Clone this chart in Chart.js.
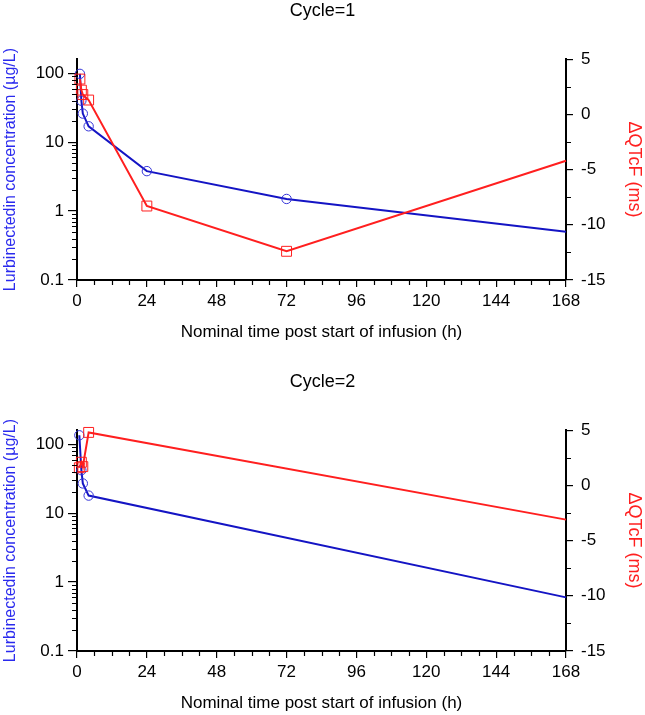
<!DOCTYPE html>
<html>
<head>
<meta charset="utf-8">
<script src="https://cdn.jsdelivr.net/npm/chart.js@4.4.1/dist/chart.umd.min.js"></script>
<style>
  body { margin: 0; background: #fff; }
  .panel { position: absolute; left: 0; width: 645px; height: 344px; }
</style>
</head>
<body>
<div class="panel" style="top:0"><canvas id="c1" width="645" height="344"></canvas></div>
<div class="panel" style="top:371px"><canvas id="c2" width="645" height="344"></canvas></div>
<script>
// nominal sampling times (h)
const times1 = [1, 1.5, 2, 4, 24, 72, 168];
const conc1 = [98, 40, 26, 17, 3.8, 1.5, 0.5];      // lurbinectedin, ug/L
const dqtcf1 = [3.2, 2.2, 1.8, 1.3, -8.3, -12.4, -4.2]; // ms

const times2 = [0.8, 1.5, 2, 4, 168];
const conc2 = [135, 42, 27, 18, 0.6];
const dqtcf2 = [1.6, 2.1, 1.7, 4.8, -3.1];

const xTicks = [0, 24, 48, 72, 96, 120, 144, 168];
const xMinor = [6, 12, 18, 30, 36, 42, 54, 60, 66, 78, 84, 90, 102, 108, 114, 126, 132, 138, 150, 156, 162];
const concTicks = [0.1, 1, 10, 100];
const concMinor = [0.2, 0.3, 0.4, 0.5, 0.6, 0.7, 0.8, 0.9, 2, 3, 4, 5, 6, 7, 8, 9, 20, 30, 40, 50, 60, 70, 80, 90];
const qtMinor = [2.5, -2.5, -7.5, -12.5];

const BLUE = '#1414c4';
const RED = '#ff1f1f';
const FONT = 'Liberation Sans, Arial, sans-serif';

// short ticks between the labelled ones
const minorTicksPlugin = {
  id: 'minorTicks',
  afterDraw(chart, args, opts) {
    const ctx = chart.ctx;
    ctx.save();
    ctx.strokeStyle = '#000';
    ctx.lineWidth = 1.2;
    const len = 5;
    const sx = chart.scales.x, sl = chart.scales.yConc, sr = chart.scales.yQt;
    ctx.beginPath();
    opts.x.forEach(v => {
      const p = Math.round(sx.getPixelForValue(v)) + 0.5;
      ctx.moveTo(p, sx.top); ctx.lineTo(p, sx.top + len);
    });
    opts.conc.forEach(v => {
      const p = Math.round(sl.getPixelForValue(v)) + 0.5;
      ctx.moveTo(sl.right - len, p); ctx.lineTo(sl.right, p);
    });
    opts.qt.forEach(v => {
      const p = Math.round(sr.getPixelForValue(v)) + 0.5;
      ctx.moveTo(sr.left, p); ctx.lineTo(sr.left + len, p);
    });
    ctx.stroke();
    ctx.restore();
  }
};

function makeChart(id, title, times, conc, dqtcf) {
  const last = times.length - 1;
  const radii = (r) => times.map((t, i) => i === last ? 0 : r);
  return new Chart(document.getElementById(id), {
    type: 'line',
    data: {
      datasets: [
        {
          label: 'dQTcF',
          data: times.map((t, i) => ({ x: t, y: dqtcf[i] })),
          yAxisID: 'yQt',
          borderColor: RED,
          borderWidth: 2,
          pointStyle: 'rect',
          pointRadius: radii(7),
          pointBorderColor: RED,
          pointBorderWidth: 1,
          pointBackgroundColor: 'rgba(255,255,255,0)',
          tension: 0,
          clip: false,
          order: 0
        },
        {
          label: 'Concentration',
          data: times.map((t, i) => ({ x: t, y: conc[i] })),
          yAxisID: 'yConc',
          borderColor: BLUE,
          borderWidth: 2,
          pointStyle: 'circle',
          pointRadius: radii(4.7),
          pointBorderColor: '#3434d8',
          pointBorderWidth: 1,
          pointBackgroundColor: 'rgba(255,255,255,0)',
          tension: 0,
          clip: false,
          order: 1
        }
      ]
    },
    options: {
      responsive: false,
      animation: false,
      events: [],
      layout: { padding: 0 },
      plugins: {
        legend: { display: false },
        tooltip: { enabled: false },
        title: {
          display: true,
          text: title,
          color: '#000',
          font: { family: FONT, size: 18, weight: 'normal' },
          padding: { top: 0, bottom: 37.6 }
        },
        minorTicks: { x: xMinor, conc: concMinor, qt: qtMinor }
      },
      scales: {
        x: {
          type: 'linear',
          min: 0,
          max: 168,
          afterBuildTicks: (s) => { s.ticks = xTicks.map(v => ({ value: v })); },
          afterFit: (s) => { s.height = 64; },
          border: { display: true, color: '#000', width: 2 },
          grid: { display: true, drawOnChartArea: false, drawTicks: true, tickLength: 7, color: '#000', lineWidth: 1.2 },
          ticks: { color: '#000', font: { family: FONT, size: 17 }, padding: 4, maxRotation: 0, autoSkip: false },
          title: {
            display: true,
            text: 'Nominal time post start of infusion (h)',
            color: '#000',
            font: { family: FONT, size: 17 },
            padding: { top: 0, bottom: 1 }
          }
        },
        yConc: {
          type: 'logarithmic',
          position: 'left',
          min: 0.1,
          max: 160,
          afterBuildTicks: (s) => { s.ticks = concTicks.map(v => ({ value: v })); },
          afterFit: (s) => { s.width = 77; },
          border: { display: true, color: '#000', width: 2 },
          grid: { display: true, drawOnChartArea: false, drawTicks: true, tickLength: 9, color: '#000', lineWidth: 1.2 },
          ticks: { color: '#000', font: { family: FONT, size: 17 }, padding: 4, callback: (v) => String(v) },
          title: {
            display: true,
            text: 'Lurbinectedin concentration (µg/L)',
            color: '#2a2aee',
            font: { family: FONT, size: 16 },
            padding: { top: 1, bottom: 0 }
          }
        },
        yQt: {
          type: 'linear',
          position: 'right',
          min: -15,
          max: 5,
          ticks: { stepSize: 5, color: '#000', font: { family: FONT, size: 17 }, padding: 8 },
          afterFit: (s) => { s.width = 79; },
          border: { display: true, color: '#000', width: 2 },
          grid: { display: true, drawOnChartArea: false, drawTicks: true, tickLength: 7, color: '#000', lineWidth: 1.2 },
          title: {
            display: true,
            text: 'ΔQTcF (ms)',
            color: RED,
            font: { family: FONT, size: 18 },
            padding: { top: 0, bottom: 0 }
          }
        }
      }
    },
    plugins: [minorTicksPlugin]
  });
}

makeChart('c1', 'Cycle=1', times1, conc1, dqtcf1);
makeChart('c2', 'Cycle=2', times2, conc2, dqtcf2);
</script>
</body>
</html>
